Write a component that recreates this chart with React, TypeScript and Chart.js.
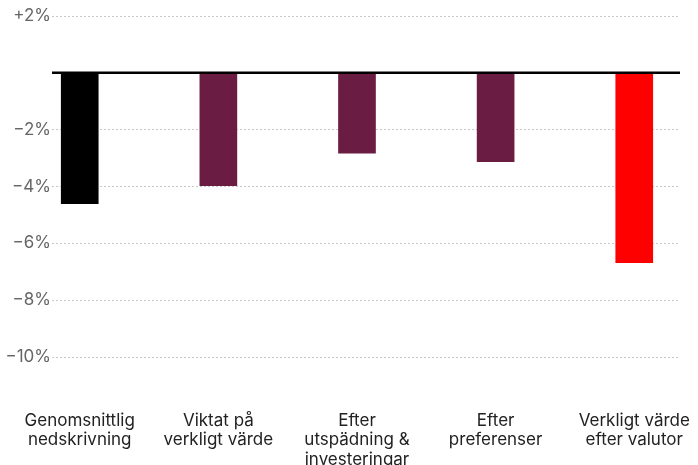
import React, { useEffect, useRef } from "react";
import { Chart, registerables } from "chart.js";

Chart.register(...registerables);

const categories: string[][] = [
  ["Genomsnittlig", "nedskrivning"],
  ["Viktat på", "verkligt värde"],
  ["Efter", "utspädning &", "investeringar"],
  ["Efter", "preferenser"],
  ["Verkligt värde", "efter valutor"],
];
const values: number[] = [-4.6, -3.97, -2.83, -3.13, -6.68];
const barColors: string[] = ["#000000", "#6b1c42", "#6b1c42", "#6b1c42", "#ff0000"];
const yTicks: number[] = [2, 0, -2, -4, -6, -8, -10];

const fmt = (v: number) => {
  if (v === 0) return "";
  if (v > 0) return "+" + v + "%";
  return "\u2212" + Math.abs(v) + "%";
};

const zeroLine = {
  id: "zeroLine",
  afterDatasetsDraw(chart: any) {
    const { ctx, chartArea, scales } = chart;
    const y = scales.y.getPixelForValue(0);
    ctx.save();
    ctx.strokeStyle = "#000";
    ctx.lineWidth = 2.5;
    ctx.beginPath();
    ctx.moveTo(chartArea.left, y);
    ctx.lineTo(chartArea.right, y);
    ctx.stroke();
    ctx.restore();
  },
};

export default function App() {
  const ref = useRef<HTMLCanvasElement | null>(null);
  useEffect(() => {
    document.body.style.margin = "0";
    const chart = new Chart(ref.current as HTMLCanvasElement, {
      type: "bar",
      data: {
        datasets: [
          {
            data: values.map((v, i) => ({ x: i, y: v })) as any,
            backgroundColor: barColors,
            barThickness: 37,
          },
        ],
      },
      options: {
        animation: false,
        responsive: false,
        maintainAspectRatio: false,
        layout: { padding: { top: 16, right: 18, left: 0, bottom: 0 } },
        plugins: { legend: { display: false }, tooltip: { enabled: false } },
        scales: {
          x: {
            type: "linear",
            offset: false,
            min: -0.2,
            max: 4.33,
            grid: { display: false, drawTicks: false, offset: false },
            border: { display: false },
            afterBuildTicks: (scale: any) => {
              scale.ticks = categories.map((_, i) => ({ value: i }));
            },
            afterFit: (scale: any) => {
              scale.height = 108;
              scale.paddingLeft = 0;
              scale.paddingRight = 0;
            },
            ticks: {
              autoSkip: false,
              maxRotation: 0,
              minRotation: 0,
              padding: 54,
              color: "#222",
              font: { family: "Inter", size: 17, lineHeight: 1.15 },
              callback: (v: any) => categories[Math.round(Number(v))] ?? "",
            },
          },
          y: {
            min: -10,
            max: 2,
            grid: {
              drawTicks: false,
              color: (c: any) => (c.tick && c.tick.value === 0 ? "rgba(0,0,0,0)" : "#c8c8c8"),
              lineWidth: 1,
            },
            border: { display: false, dash: [2, 2] },
            afterBuildTicks: (scale: any) => {
              scale.ticks = yTicks.map((v) => ({ value: v }));
            },
            afterFit: (scale: any) => {
              scale.width = 52;
            },
            ticks: {
              padding: 1,
              color: "#666",
              font: { family: "Inter", size: 17 },
              callback: (v: any) => fmt(Number(v)),
            },
          },
        },
      },
      plugins: [zeroLine],
    });
    return () => chart.destroy();
  }, []);
  return (
    <div style={{ width: 698, height: 465 }}>
      <canvas ref={ref} width={698} height={465} style={{ display: "block" }} />
    </div>
  );
}
